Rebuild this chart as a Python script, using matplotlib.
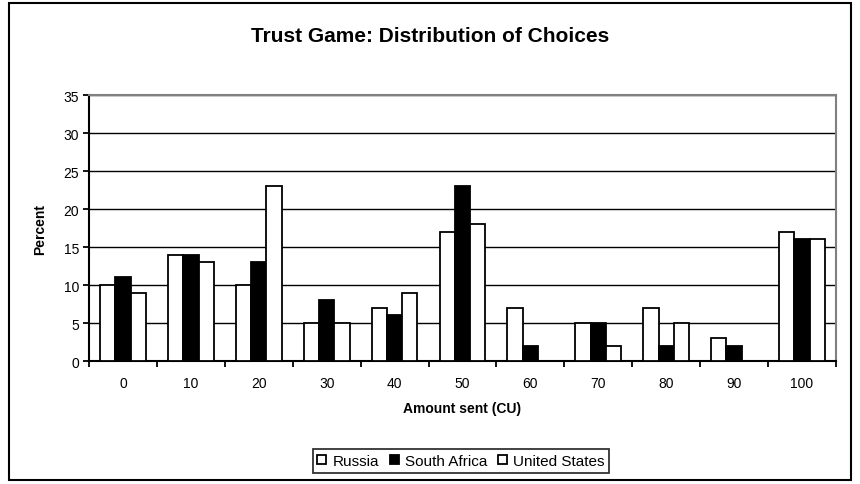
import numpy as np
import matplotlib.pyplot as plt
from matplotlib.patches import Rectangle

plt.rcParams['font.family'] = ['Liberation Sans', 'DejaVu Sans']

amounts = ["0", "10", "20", "30", "40", "50", "60", "70", "80", "90", "100"]
russia = [10, 14, 10, 5, 7, 17, 7, 5, 7, 3, 17]
south_africa = [11, 14, 13, 8, 6, 23, 2, 5, 2, 2, 16]
united_states = [9, 13, 23, 5, 9, 18, 0, 2, 5, 0, 16]

fig = plt.figure(figsize=(8.6, 4.85), dpi=100)
ax = fig.add_axes([0.1035, 0.2536, 0.8685, 0.5484])

# outer chart frame
fig.patches.append(Rectangle((9 / 860, 4 / 485), 842 / 860, 477 / 485,
                             transform=fig.transFigure, fill=False,
                             edgecolor="black", linewidth=1.5))

x = np.arange(len(amounts))
w = 0.225
series = [(russia, "white", "Russia"),
          (south_africa, "black", "South Africa"),
          (united_states, "white", "United States")]
for i, (vals, col, name) in enumerate(series):
    ax.bar(x + (i - 1) * w, vals, width=w, color=col, edgecolor="black",
           linewidth=1.3, label=name, zorder=3)

ax.set_xlim(-0.5, len(amounts) - 0.5)
ax.set_ylim(0, 35)
ax.set_yticks(range(0, 36, 5))
ax.yaxis.grid(True, color="black", linewidth=1.0, zorder=0)
ax.set_axisbelow(True)

ax.set_xticks(x)
ax.set_xticklabels(amounts, fontsize=10)
ax.set_xticks(np.arange(-0.5, len(amounts)), minor=True)
ax.tick_params(axis="x", which="major", length=0, pad=11)
ax.tick_params(axis="x", which="minor", length=4, width=1.3, direction="out")
ax.tick_params(axis="y", length=4, width=1.3, direction="out", labelsize=10, pad=3)

for s in ["left", "bottom"]:
    ax.spines[s].set_color("black")
    ax.spines[s].set_linewidth(1.5)
for s in ["top", "right"]:
    ax.spines[s].set_color("#808080")
    ax.spines[s].set_linewidth(1.5)

ax.set_xlabel("Amount sent (CU)", fontsize=10, fontweight="bold", labelpad=8)
ax.set_ylabel("Percent", fontsize=10, fontweight="bold", labelpad=12)

fig.text(0.5, 1 - 37 / 485, "Trust Game: Distribution of Choices",
         ha="center", va="center", fontsize=15, fontweight="bold")

leg = fig.legend(loc="center", bbox_to_anchor=(0.536, 1 - 462 / 485),
                 ncol=3, fontsize=11, frameon=True, fancybox=False,
                 handlelength=0.6, handleheight=0.6, handletextpad=0.4,
                 columnspacing=0.7, borderpad=0.3, borderaxespad=0)
leg.get_frame().set_edgecolor("black")
leg.get_frame().set_linewidth(1.3)

fig.savefig("out.png", dpi=100)
